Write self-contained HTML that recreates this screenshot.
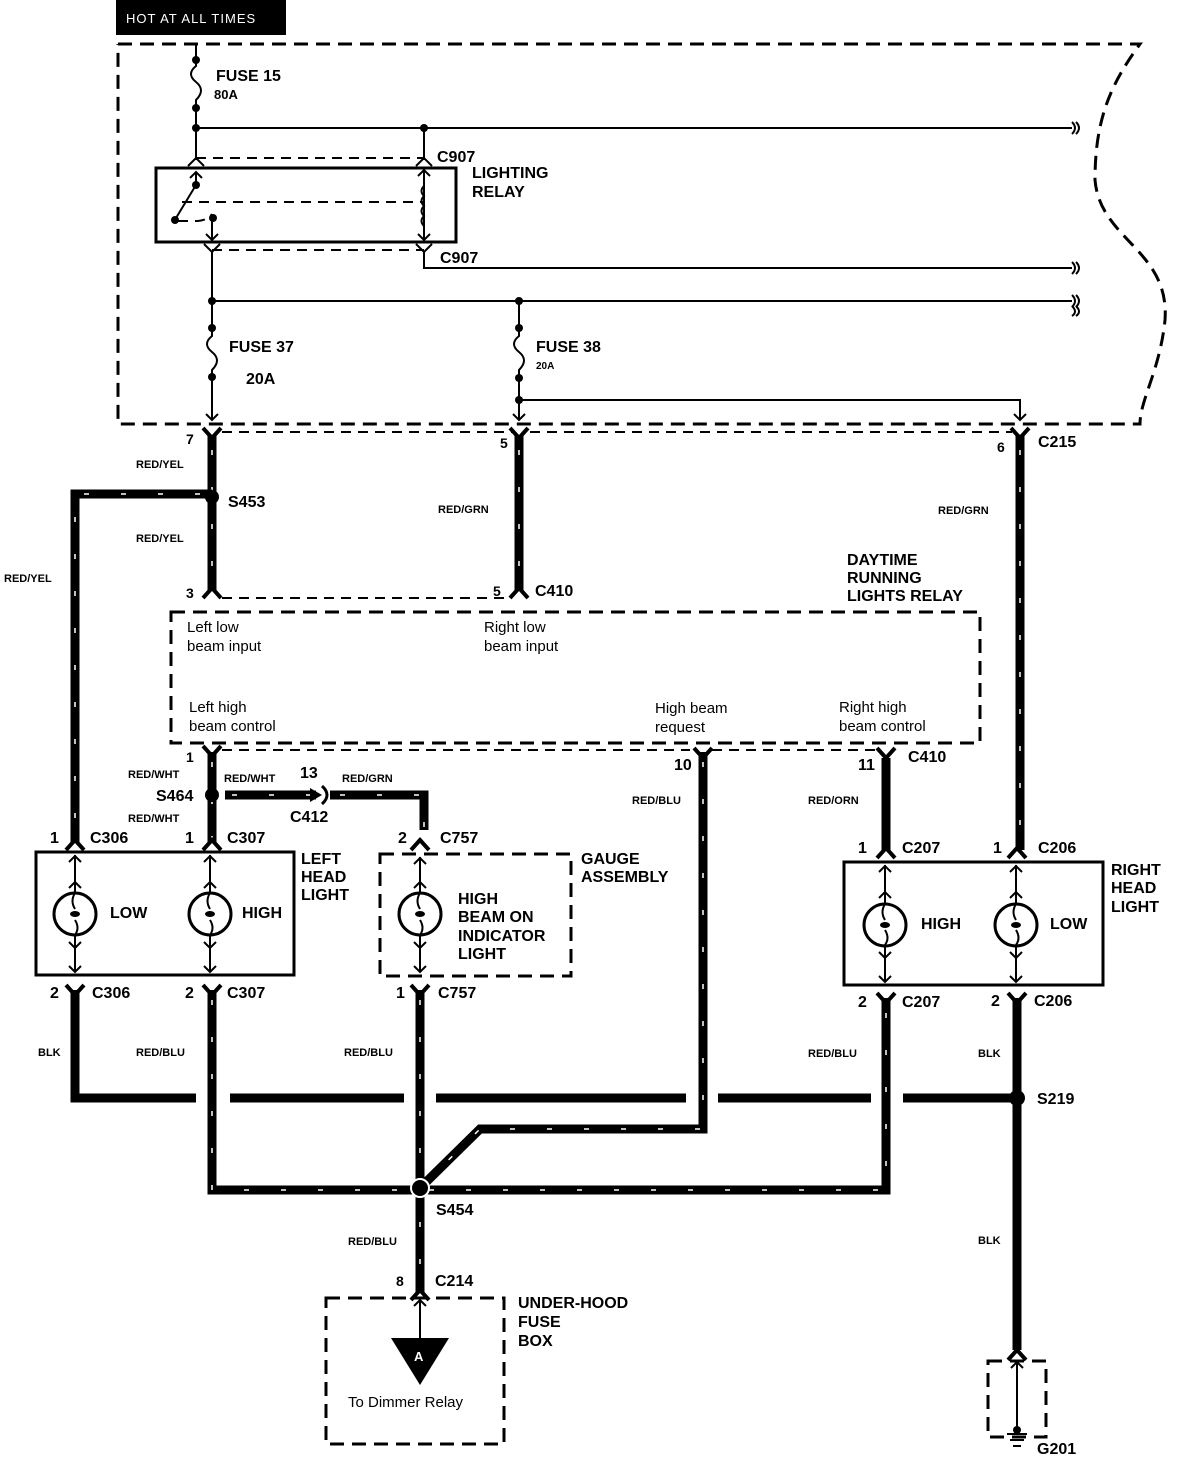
<!DOCTYPE html>
<html><head><meta charset="utf-8"><style>
html,body{margin:0;padding:0;background:#fff}
svg{display:block}
text{font-family:"Liberation Sans",Arial,sans-serif;fill:#000}
.b{font-weight:bold;font-size:16px}
.s{font-weight:bold;font-size:11px}
.n{font-size:15px}
.tw{stroke:#000;stroke-width:9;fill:none}
.td{stroke:#fff;stroke-width:1.5;fill:none;stroke-dasharray:5 32}
.w{stroke:#000;stroke-width:2;fill:none}
.dl{stroke:#000;stroke-width:3;fill:none;stroke-dasharray:14 8}
.dt{stroke:#000;stroke-width:2;fill:none;stroke-dasharray:10 7}
.cn{stroke:#000;stroke-width:4;fill:none}
</style></head><body>
<svg width="1184" height="1458" viewBox="0 0 1184 1458" xmlns="http://www.w3.org/2000/svg">
<rect x="116" y="0" width="170" height="35" fill="#000"/>
<text x="126" y="23" style="fill:#fff;font-size:13px;letter-spacing:1px">HOT AT ALL TIMES</text>
<path class="dl" d="M118 44 H1140 C1110 85 1095 120 1095 180 C1100 240 1170 250 1165 320 C1160 370 1140 400 1140 424 H118 V44"/>
<path class="w" d="M196 44 V160 M196 128 H1072 M424 128 V160"/>
<path class="w" d="M1072 122 q6 6 0 12 M1076 122 q6 6 0 12"/>
<rect x="192" y="64" width="8" height="40" fill="#fff"/>
<path class="w" d="M196 62 V66 q-10 8 0 16 q10 8 0 18 V108"/>
<circle cx="196" cy="60" r="4"/><circle cx="196" cy="108" r="4"/><circle cx="196" cy="128" r="4"/><circle cx="424" cy="128" r="4"/>
<text x="216" y="81" class="b">FUSE 15</text>
<text x="214" y="99" style="font-weight:bold;font-size:13px">80A</text>
<path class="dt" d="M196 158 H424"/>
<path class="w" d="M188 166 L196 158 L204 166 M416 166 L424 158 L432 166"/>
<text x="437" y="162" class="b">C907</text>
<text x="472" y="178" class="b">LIGHTING</text>
<text x="472" y="197" class="b">RELAY</text>
<rect x="156" y="168" width="300" height="74" fill="none" stroke="#000" stroke-width="3"/>
<path class="w" d="M196 172 V185 L176 218 M190 178 L196 172 L202 178"/>
<circle cx="196" cy="185" r="4"/><circle cx="175" cy="220" r="4"/>
<path class="dt" d="M182 202 H424 M178 221 H198 Q208 220 212 214"/>
<circle cx="213" cy="218" r="4"/>
<path class="w" d="M212 218 V240 M206 234 L212 240 L218 234"/>
<path class="w" d="M424 170 V240 M418 176 L424 170 L430 176 M418 234 L424 240 L430 234"/>
<path class="w" d="M424 186 q-5 5 0 10 q-5 5 0 10 q-5 5 0 10 q-5 5 0 10"/>
<path class="dt" d="M212 250 H424"/>
<path class="w" d="M204 244 L212 252 L220 244 M416 244 L424 252 L432 244 M212 252 V328 M212 376 V420 M424 252 V268 H1072"/>
<text x="440" y="263" class="b">C907</text>
<path class="w" d="M212 301 H1072 M1072 262 q6 6 0 12 M1076 262 q6 6 0 12 M1072 295 q6 6 0 12 M1076 295 q6 6 0 12"/>
<path class="w" d="M1072 316 q6 -4 0 -10 M1076 316 q6 -4 0 -10"/>
<circle cx="212" cy="301" r="4"/><circle cx="519" cy="301" r="4"/>
<path class="w" d="M212 328 V336 q-10 8 0 16 q10 8 0 18 V378"/>
<circle cx="212" cy="328" r="4"/><circle cx="212" cy="377" r="4"/>
<text x="229" y="352" class="b">FUSE 37</text>
<text x="246" y="384" class="b">20A</text>
<path class="w" d="M206 414 L212 420 L218 414"/>
<path class="w" d="M519 301 V328 M519 378 V420"/>
<circle cx="519" cy="328" r="4"/><circle cx="519" cy="378" r="4"/><circle cx="519" cy="400" r="4"/>
<path class="w" d="M519 328 V336 q-10 8 0 16 q10 8 0 18 V380"/>
<text x="536" y="352" class="b">FUSE 38</text>
<text x="536" y="369" style="font-weight:bold;font-size:10px">20A</text>
<path class="w" d="M513 414 L519 420 L525 414 M519 400 H1020 V420 M1014 414 L1020 420 L1026 414"/>
<path class="dt" d="M222 432 H512 M530 432 H1012"/>
<g>
<path class="tw" d="M212 436 V590"/><path class="td" d="M212 450 V590"/>
<path class="tw" d="M212 494 H75 V842"/><path class="td" d="M200 494 H75 V842"/>
<path class="tw" d="M519 436 V590"/><path class="td" d="M519 450 V590"/>
<path class="tw" d="M1020 436 V850"/><path class="td" d="M1020 450 V850"/>
<path class="tw" d="M212 752 V842"/><path class="td" d="M212 762 V842"/>
<path class="tw" d="M225 795 H316"/><path class="td" d="M232 795 H316"/>
<path class="tw" d="M330 795 H424 V830"/><path class="td" d="M340 795 H424 V830"/>
<path class="tw" d="M703 752 V1129 H480 L420 1188"/><path class="td" d="M703 762 V1129 H480 L420 1188"/>
<path class="tw" d="M886 758 V850"/>
<path class="tw" d="M212 990 V1190 H886 V998"/><path class="td" d="M212 1000 V1190 H886 V1000"/>
<path class="tw" d="M420 990 V1292"/><path class="td" d="M420 1000 V1292"/>
<path class="tw" d="M75 990 V1098 H196 M230 1098 H404 M436 1098 H686 M718 1098 H871 M903 1098 H1017"/>
<path class="tw" d="M1017 998 V1350"/>
</g>
<circle cx="212" cy="497" r="7"/><circle cx="212" cy="795" r="7"/><circle cx="420" cy="1188" r="9" stroke="#fff" stroke-width="2"/><circle cx="1017" cy="1098" r="8"/>
<path d="M310 788 L322 795 L310 802 Z"/><path class="w" d="M322 786 Q332 795 322 804" style="stroke-width:3"/>
<path class="cn" d="M203 428 L212 438 L221 428 M510 428 L519 438 L528 428 M1011 428 L1020 438 L1029 428 M203 746 L212 756 L221 746 M694 748 L703 758 L712 748 M877 748 L886 758 L895 748 M66 985 L75 995 L84 985 M203 985 L212 995 L221 985 M411 985 L420 995 L429 985 M877 993 L886 1003 L895 993 M1008 993 L1017 1003 L1026 993"/>
<path class="cn" d="M203 598 L212 588 L221 598 M510 598 L519 588 L528 598 M66 850 L75 840 L84 850 M203 850 L212 840 L221 850 M411 850 L420 840 L429 850 M877 858 L886 848 L895 858 M1008 858 L1017 848 L1026 858 M411 1300 L420 1290 L429 1300 M1008 1360 L1017 1350 L1026 1360"/>
<path class="dt" d="M222 598 H505"/><path class="dt" d="M222 750 H690 M712 750 H876"/>
<text x="186" y="444" class="b" style="font-size:14px">7</text>
<text x="136" y="468" class="s">RED/YEL</text>
<text x="228" y="507" class="b">S453</text>
<text x="136" y="542" class="s">RED/YEL</text>
<text x="4" y="582" class="s">RED/YEL</text>
<text x="186" y="598" class="b" style="font-size:14px">3</text>
<text x="500" y="448" class="b" style="font-size:14px">5</text>
<text x="438" y="513" class="s">RED/GRN</text>
<text x="493" y="596" class="b" style="font-size:14px">5</text>
<text x="535" y="596" class="b">C410</text>
<text x="997" y="452" class="b" style="font-size:14px">6</text>
<text x="1038" y="447" class="b">C215</text>
<text x="938" y="514" class="s">RED/GRN</text>
<text x="847" y="565" class="b">DAYTIME</text>
<text x="847" y="583" class="b">RUNNING</text>
<text x="847" y="601" class="b">LIGHTS RELAY</text>
<rect x="171" y="612" width="809" height="131" class="dl"/>
<text x="187" y="632" class="n">Left low</text><text x="187" y="651" class="n">beam input</text>
<text x="484" y="632" class="n">Right low</text><text x="484" y="651" class="n">beam input</text>
<text x="189" y="712" class="n">Left high</text><text x="189" y="731" class="n">beam control</text>
<text x="655" y="713" class="n">High beam</text><text x="655" y="732" class="n">request</text>
<text x="839" y="712" class="n">Right high</text><text x="839" y="731" class="n">beam control</text>
<text x="186" y="762" class="b" style="font-size:14px">1</text>
<text x="128" y="778" class="s">RED/WHT</text>
<text x="224" y="782" class="s">RED/WHT</text>
<text x="300" y="778" class="b">13</text>
<text x="342" y="782" class="s">RED/GRN</text>
<text x="156" y="801" class="b">S464</text>
<text x="128" y="822" class="s">RED/WHT</text>
<text x="290" y="822" class="b">C412</text>
<text x="674" y="770" class="b">10</text>
<text x="632" y="804" class="s">RED/BLU</text>
<text x="858" y="770" class="b">11</text>
<text x="908" y="762" class="b">C410</text>
<text x="808" y="804" class="s">RED/ORN</text>
<text x="50" y="843" class="b">1</text><text x="90" y="843" class="b">C306</text>
<text x="185" y="843" class="b">1</text><text x="227" y="843" class="b">C307</text>
<rect x="36" y="852" width="258" height="123" fill="none" stroke="#000" stroke-width="3"/>
<text x="301" y="864" class="b">LEFT</text><text x="301" y="882" class="b">HEAD</text><text x="301" y="900" class="b">LIGHT</text>
<text x="398" y="843" class="b">2</text><text x="440" y="843" class="b">C757</text>
<rect x="380" y="854" width="191" height="122" class="dl"/>
<text x="581" y="864" class="b">GAUGE</text><text x="581" y="882" class="b">ASSEMBLY</text>
<text x="458" y="904" class="b">HIGH</text><text x="458" y="922" class="b">BEAM ON</text><text x="458" y="941" class="b">INDICATOR</text><text x="458" y="959" class="b">LIGHT</text>
<text x="110" y="918" class="b">LOW</text><text x="242" y="918" class="b">HIGH</text>
<g fill="none" stroke="#000">
<g stroke-width="3"><circle cx="75" cy="914" r="21"/><circle cx="210" cy="914" r="21"/><circle cx="420" cy="914" r="21"/><circle cx="885" cy="925" r="21"/><circle cx="1016" cy="925" r="21"/></g>
<g stroke-width="2">
<path d="M75 855 V893 M75 935 V972 M69 862 L75 856 L81 862 M69 888 L75 882 L81 888 M69 942 L75 948 L81 942 M69 966 L75 972 L81 966 M75 893 q-5 8 0 16 M75 920 q5 8 0 15"/>
<path d="M210 855 V893 M210 935 V972 M204 862 L210 856 L216 862 M204 888 L210 882 L216 888 M204 942 L210 948 L216 942 M204 966 L210 972 L216 966 M210 893 q-5 8 0 16 M210 920 q5 8 0 15"/>
<path d="M420 857 V893 M420 935 V972 M414 864 L420 858 L426 864 M414 888 L420 882 L426 888 M414 942 L420 948 L426 942 M414 966 L420 972 L426 966 M420 893 q-5 8 0 16 M420 920 q5 8 0 15"/>
<path d="M885 865 V904 M885 946 V982 M879 872 L885 866 L891 872 M879 898 L885 892 L891 898 M879 952 L885 958 L891 952 M879 976 L885 982 L891 976 M885 904 q-5 8 0 16 M885 930 q5 8 0 15"/>
<path d="M1016 865 V904 M1016 946 V982 M1010 872 L1016 866 L1022 872 M1010 898 L1016 892 L1022 898 M1010 952 L1016 958 L1022 952 M1010 976 L1016 982 L1022 976 M1016 904 q-5 8 0 16 M1016 930 q5 8 0 15"/>
</g></g>
<g><ellipse cx="75" cy="914" rx="5" ry="3"/><ellipse cx="210" cy="914" rx="5" ry="3"/><ellipse cx="420" cy="914" rx="5" ry="3"/><ellipse cx="885" cy="925" rx="5" ry="3"/><ellipse cx="1016" cy="925" rx="5" ry="3"/></g>
<text x="858" y="853" class="b">1</text><text x="902" y="853" class="b">C207</text>
<text x="993" y="853" class="b">1</text><text x="1038" y="853" class="b">C206</text>
<rect x="844" y="862" width="259" height="123" fill="none" stroke="#000" stroke-width="3"/>
<text x="1111" y="875" class="b">RIGHT</text><text x="1111" y="893" class="b">HEAD</text><text x="1111" y="912" class="b">LIGHT</text>
<text x="921" y="929" class="b">HIGH</text><text x="1050" y="929" class="b">LOW</text>
<text x="50" y="998" class="b">2</text><text x="92" y="998" class="b">C306</text>
<text x="185" y="998" class="b">2</text><text x="227" y="998" class="b">C307</text>
<text x="396" y="998" class="b">1</text><text x="438" y="998" class="b">C757</text>
<text x="858" y="1007" class="b">2</text><text x="902" y="1007" class="b">C207</text>
<text x="991" y="1006" class="b">2</text><text x="1034" y="1006" class="b">C206</text>
<text x="38" y="1056" class="s">BLK</text>
<text x="136" y="1056" class="s">RED/BLU</text>
<text x="344" y="1056" class="s">RED/BLU</text>
<text x="808" y="1057" class="s">RED/BLU</text>
<text x="978" y="1057" class="s">BLK</text>
<text x="1037" y="1104" class="b">S219</text>
<text x="436" y="1215" class="b">S454</text>
<text x="348" y="1245" class="s">RED/BLU</text>
<text x="978" y="1244" class="s">BLK</text>
<text x="396" y="1286" class="b" style="font-size:14px">8</text><text x="435" y="1286" class="b">C214</text>
<rect x="326" y="1298" width="178" height="146" class="dl"/>
<text x="518" y="1308" class="b">UNDER-HOOD</text><text x="518" y="1327" class="b">FUSE</text><text x="518" y="1346" class="b">BOX</text>
<path class="w" d="M420 1298 V1340 M414 1306 L420 1300 L426 1306"/>
<path d="M391 1338 H449 L420 1385 Z"/>
<text x="414" y="1361" style="fill:#fff;font-weight:bold;font-size:13px">A</text>
<text x="348" y="1407" class="n">To Dimmer Relay</text>
<rect x="988" y="1361" width="58" height="76" class="dl"/>
<path class="w" d="M1017 1360 V1430 M1011 1368 L1017 1362 L1023 1368 M1007 1434 H1027 M1010 1440 H1024 M1013 1446 H1021"/>
<circle cx="1017" cy="1430" r="4"/>
<text x="1037" y="1454" class="b">G201</text>
</svg>
</body></html>
